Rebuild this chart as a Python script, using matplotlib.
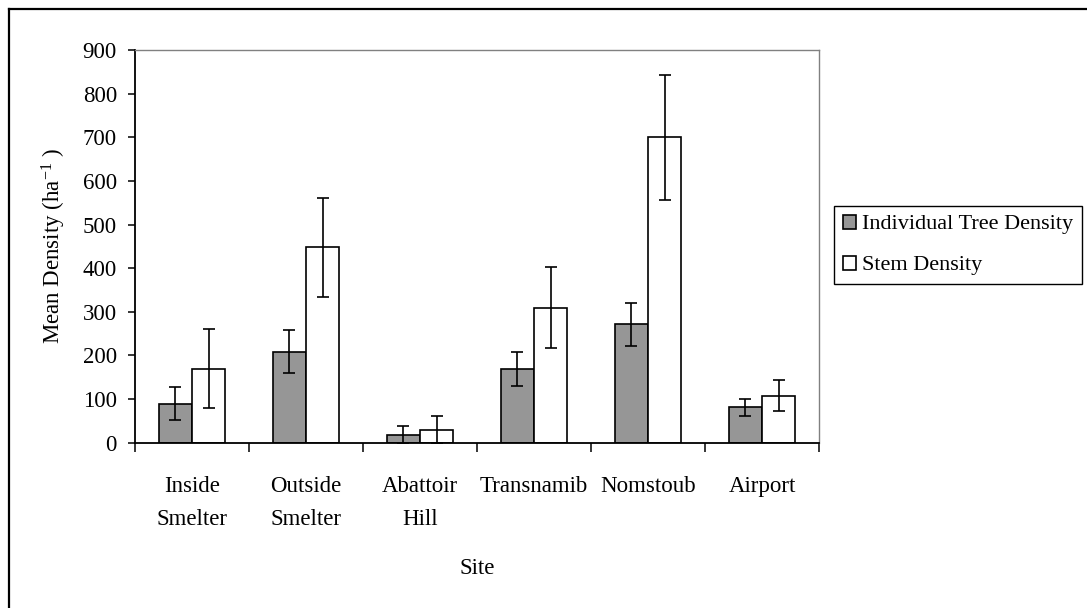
import numpy as np
import matplotlib
matplotlib.use('Agg')
import matplotlib.pyplot as plt
from matplotlib.lines import Line2D

plt.rcParams['font.family'] = ['Liberation Serif', 'DejaVu Serif']
plt.rcParams['mathtext.fontset'] = 'custom'
plt.rcParams['mathtext.rm'] = 'Liberation Serif'
plt.rcParams['mathtext.it'] = 'Liberation Serif:italic'

# Sites and mean densities (per ha) with error bar half-widths
sites = ['Inside\nSmelter', 'Outside\nSmelter', 'Abattoir\nHill',
         'Transnamib', 'Nomstoub', 'Airport']
tree_density = [89, 209, 18, 170, 271, 81]
tree_err = [38, 50, 20, 39, 50, 20]
stem_density = [170, 448, 30, 309, 700, 108]
stem_err = [90, 113, 31, 93, 143, 35]

FS = 16.5
W, H = 1087, 608

fig = plt.figure(figsize=(W / 100, H / 100), dpi=100)
ax = fig.add_axes([135 / W, 1 - 442.7 / H, 684 / W, 392.7 / H])

x = np.arange(len(sites))
bw = 0.29
err_kw = dict(ecolor='black', elinewidth=1.2, capsize=4, capthick=1.2)
ax.bar(x - bw / 2, tree_density, bw, color='#969696', edgecolor='black',
       linewidth=1.2, yerr=tree_err, error_kw=err_kw, zorder=2,
       label='Individual Tree Density')
ax.bar(x + bw / 2, stem_density, bw, color='white', edgecolor='black',
       linewidth=1.2, yerr=stem_err, error_kw=err_kw, zorder=2,
       label='Stem Density')

ax.set_xlim(-0.5, len(sites) - 0.5)
ax.set_ylim(0, 900)
ax.set_yticks(np.arange(0, 901, 100))
ax.set_xticks(x)
ax.set_xticklabels(sites, fontsize=FS, linespacing=1.75)
ax.set_xticks(np.arange(-0.5, len(sites)), minor=True)
ax.tick_params(axis='x', which='major', length=0, pad=24)
ax.tick_params(axis='x', which='minor', length=6.5, width=1.1, direction='out')
ax.tick_params(axis='y', length=5, width=1.1, direction='out', pad=8,
               labelsize=FS)

for side in ('left', 'bottom'):
    ax.spines[side].set_color('black')
    ax.spines[side].set_linewidth(1.3)
for side in ('top', 'right'):
    ax.spines[side].set_color('#808080')
    ax.spines[side].set_linewidth(1.0)

fig.text(54 / W, 1 - 246 / H, 'Mean Density (ha$^{-1}$ )', rotation=90,
         ha='center', va='center', fontsize=FS)
fig.text(477 / W, 1 - 568 / H, 'Site', ha='center', va='center', fontsize=FS)

leg = fig.legend(loc='center left', bbox_to_anchor=(834 / W, 1 - 245 / H),
                 fontsize=16, frameon=True, fancybox=False, framealpha=1,
                 edgecolor='black', borderpad=0.4, handlelength=0.6,
                 handleheight=0.6, handletextpad=0.25, labelspacing=0.95,
                 borderaxespad=0)
leg.get_frame().set_linewidth(1.0)

# chart frame
fig.add_artist(Line2D([8.5 / W, 8.5 / W], [0, 1 - 8.5 / H], color='black',
                      linewidth=1.6))
fig.add_artist(Line2D([8.5 / W, 1], [1 - 8.5 / H, 1 - 8.5 / H], color='black',
                      linewidth=1.6))

fig.savefig('out.png', dpi=100)
